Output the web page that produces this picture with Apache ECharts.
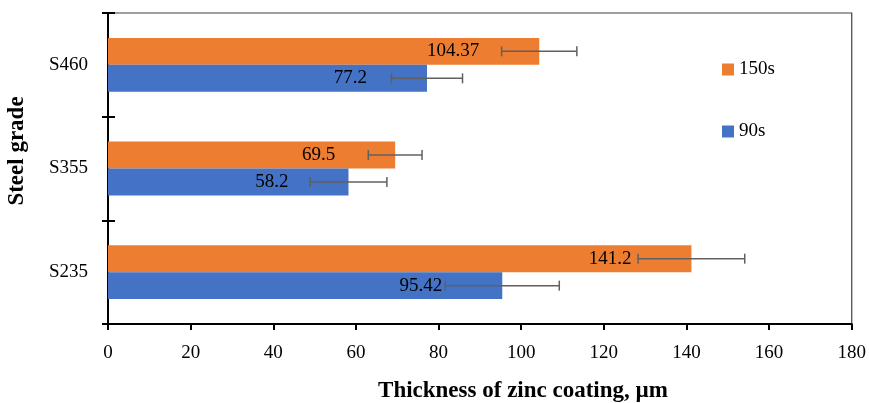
<!DOCTYPE html>
<html>
<head>
<meta charset="utf-8">
<script src="https://cdn.jsdelivr.net/npm/echarts@6/dist/echarts.min.js"></script>
<style>html,body{margin:0;padding:0;background:#fff}#c{width:869px;height:403px}</style>
</head>
<body>
<div id="c"></div>
<script>
const categories = ['S235', 'S355', 'S460'];
const values150 = [141.2, 69.5, 104.37];
const values90 = [95.42, 58.2, 77.2];
const err150 = [12.9, 6.5, 9.1];
const err90 = [13.8, 9.3, 8.6];
const xTicks = { min: 0, max: 180, interval: 20 };

const FONT = 'Liberation Serif';
const CAT_GAP = 0.48;

function errData(vals, errs) {
  return vals.map((v, i) => [v, i, errs[i]]);
}
function errRender(side) {
  return function (params, api) {
    const mean = api.value(0), c = api.value(1), e = api.value(2);
    const band = api.size([0, 1])[1];
    const barW = band * (1 - CAT_GAP) / 2;
    const off = side * barW / 2;
    const p1 = api.coord([mean - e, c]);
    const p2 = api.coord([mean + e, c]);
    const y = p1[1] + off;
    const cap = 5;
    const st = { stroke: '#606060', lineWidth: 1.5 };
    return {
      type: 'group',
      children: [
        { type: 'line', shape: { x1: p1[0], y1: y, x2: p2[0], y2: y }, style: st },
        { type: 'line', shape: { x1: p1[0], y1: y - cap, x2: p1[0], y2: y + cap }, style: st },
        { type: 'line', shape: { x1: p2[0], y1: y - cap, x2: p2[0], y2: y + cap }, style: st }
      ]
    };
  };
}

const chart = echarts.init(document.getElementById('c'));
const labelCfg = {
  show: true, position: 'insideRight', distance: 60,
  color: '#000', fontFamily: FONT, fontSize: 19
};
chart.setOption({
  animation: false,
  textStyle: { fontFamily: FONT },
  grid: { left: 108, right: 16, top: 13, bottom: 79, show: true, borderColor: '#404040', borderWidth: 1.2, containLabel: false },
  legend: {
    orient: 'vertical', left: 717, top: 55, itemGap: 43, itemWidth: 12, itemHeight: 12,
    icon: 'rect', textStyle: { fontFamily: FONT, fontSize: 19, color: '#000' },
    data: ['150s', '90s']
  },
  xAxis: {
    type: 'value', min: xTicks.min, max: xTicks.max, interval: xTicks.interval,
    splitLine: { show: false },
    axisLine: { show: true, lineStyle: { color: '#000', width: 2 } },
    axisTick: { show: true, length: 6, lineStyle: { color: '#000', width: 2 } },
    axisLabel: { color: '#000', fontFamily: FONT, fontSize: 19, margin: 20 }
  },
  yAxis: [{
    type: 'category', data: categories,
    axisLine: { show: true, lineStyle: { color: '#000', width: 2 } },
    axisTick: { show: true, length: 6, lineStyle: { color: '#000', width: 2 } },
    axisLabel: { color: '#000', fontFamily: FONT, fontSize: 19, margin: 20 }
  }, {
    type: 'category', data: categories, position: 'left',
    axisLine: { show: false },
    axisTick: { show: true, inside: true, length: 7, lineStyle: { color: '#000', width: 2 } },
    axisLabel: { show: false }
  }],
  graphic: [
    { type: 'text', x: 17, y: 151, rotation: Math.PI / 2,
      style: { text: 'Steel grade', fontFamily: FONT, fontSize: 23, fontWeight: 'bold', fill: '#000', align: 'center', verticalAlign: 'middle' } },
    { type: 'text', x: 523, y: 391,
      style: { text: 'Thickness of zinc coating, µm', fontFamily: FONT, fontSize: 23, fontWeight: 'bold', fill: '#000', align: 'center', verticalAlign: 'middle' } }
  ],
  series: [
    { name: '150s', type: 'bar', data: values150, barGap: '0%', barCategoryGap: (CAT_GAP * 100) + '%',
      itemStyle: { color: '#ED7D31' }, label: labelCfg },
    { name: '90s', type: 'bar', data: values90, barGap: '0%', barCategoryGap: (CAT_GAP * 100) + '%',
      itemStyle: { color: '#4472C4' }, label: labelCfg },
    { name: 'err150', type: 'custom', coordinateSystem: 'cartesian2d', yAxisIndex: 0,
      data: errData(values150, err150), encode: { x: 0, y: 1 }, renderItem: errRender(-1), z: 5 },
    { name: 'err90', type: 'custom', coordinateSystem: 'cartesian2d', yAxisIndex: 0,
      data: errData(values90, err90), encode: { x: 0, y: 1 }, renderItem: errRender(1), z: 5 }
  ]
});
</script>
</body>
</html>
